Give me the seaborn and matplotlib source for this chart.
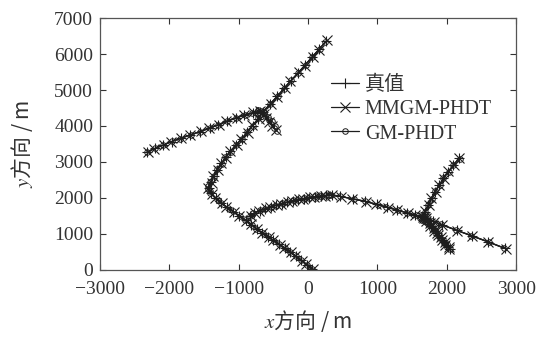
import matplotlib
matplotlib.use("Agg")
import matplotlib.pyplot as plt
import seaborn as sns
import pandas as pd

# track points (x, y in m)
truth_a = [(260, 6350), (159, 6132), (58, 5914), (-43, 5696), (-144, 5478), (-245, 5260), (-346, 5042),
           (-447, 4824), (-548, 4606), (-649, 4390), (-720, 4200), (-800, 4010), (-880, 3820), (-960, 3640),
           (-1040, 3470), (-1120, 3300), (-1190, 3130), (-1250, 2960), (-1310, 2790), (-1360, 2610),
           (-1400, 2440), (-1430, 2280), (-1400, 2130), (-1330, 1990), (-1250, 1860), (-1170, 1740),
           (-1080, 1620), (-990, 1500), (-900, 1380), (-820, 1260), (-740, 1140), (-660, 1030), (-580, 920),
           (-500, 820), (-420, 710), (-340, 610), (-260, 500), (-180, 390), (-100, 270), (-20, 150), (60, 30)]
truth_b = [(-690, 4400), (-800, 4360), (-920, 4300), (-1040, 4225), (-1170, 4130), (-1295, 4035),
           (-1420, 3940), (-1560, 3845), (-1700, 3750), (-1840, 3655), (-1970, 3565), (-2090, 3470),
           (-2210, 3375), (-2330, 3270)]
truth_c = [(-840, 1500), (-780, 1580), (-700, 1650), (-620, 1700), (-540, 1750), (-460, 1800), (-380, 1845),
           (-300, 1885), (-220, 1920), (-140, 1955), (-60, 1985), (20, 2010), (100, 2035), (180, 2055),
           (260, 2070), (340, 2080), (462, 2046), (650, 1973), (822, 1907), (995, 1819), (1139, 1742),
           (1283, 1665), (1428, 1585), (1543, 1521), (1680, 1440), (1800, 1352), (1928, 1258), (2144, 1100),
           (2361, 948), (2601, 779), (2840, 600)]
truth_d = [(2183, 3102), (2096, 2917), (2024, 2731), (1952, 2547), (1894, 2361), (1832, 2175), (1784, 1992),
           (1735, 1806), (1687, 1620), (1660, 1480), (1690, 1420), (1715, 1355), (1745, 1290), (1770, 1225),
           (1800, 1160), (1825, 1095), (1855, 1030), (1880, 965), (1910, 900), (1935, 835), (1965, 770),
           (1990, 705), (2020, 640), (2045, 575)]

mmgm_a = [(270, 6380), (150, 6120), (65, 5930), (-50, 5680), (-135, 5490), (-255, 5250), (-340, 5060),
          (-455, 4810), (-540, 4620), (-660, 4380), (-710, 4190), (-810, 4020), (-870, 3810), (-970, 3650),
          (-1030, 3460), (-1130, 3310), (-1180, 3120), (-1260, 2970), (-1300, 2780), (-1370, 2620),
          (-1390, 2430), (-1440, 2290), (-1390, 2120), (-1340, 2000), (-1240, 1850), (-1180, 1750),
          (-1070, 1610), (-1000, 1510), (-890, 1370), (-830, 1270), (-730, 1130), (-670, 1040), (-570, 910),
          (-510, 830), (-410, 700), (-350, 620), (-250, 490), (-190, 400), (-90, 260), (-30, 160), (70, 20)]
mmgm_b = [(-470, 3900), (-520, 4010), (-560, 4120), (-600, 4230), (-640, 4330), (-700, 4410), (-790, 4375),
          (-930, 4310), (-1030, 4220), (-1180, 4125), (-1285, 4040), (-1430, 3935), (-1550, 3850),
          (-1710, 3745), (-1835, 3660), (-1980, 3560), (-2080, 3475), (-2220, 3370), (-2310, 3290)]
mmgm_c = [(-830, 1490), (-770, 1590), (-710, 1640), (-610, 1710), (-550, 1740), (-450, 1810), (-390, 1835),
          (-290, 1895), (-230, 1910), (-130, 1965), (-70, 1975), (30, 2020), (90, 2025), (190, 2065),
          (250, 2060), (350, 2090), (470, 2040), (640, 1980), (830, 1900), (985, 1825), (1150, 1735),
          (1275, 1670), (1435, 1580), (1535, 1525), (1670, 1445), (1810, 1345), (1935, 1250), (2150, 1095),
          (2370, 940), (2595, 785), (2850, 590)]
mmgm_d = [(2170, 3120), (2105, 2905), (2015, 2745), (1960, 2535), (1885, 2370), (1840, 2165), (1775, 2000),
          (1745, 1795), (1680, 1630), (1650, 1470), (1695, 1430), (1705, 1350), (1755, 1295), (1760, 1220),
          (1810, 1165), (1815, 1090), (1865, 1035), (1870, 960), (1920, 905), (1925, 830), (1975, 775),
          (1980, 700), (2030, 645), (2035, 570)]

gm_a = [(250, 6340), (165, 6140), (50, 5905), (-35, 5705), (-150, 5470), (-240, 5270), (-350, 5035),
        (-440, 4830), (-555, 4600), (-640, 4400), (-725, 4210), (-795, 4000), (-885, 3830), (-955, 3630),
        (-1045, 3480), (-1115, 3290), (-1195, 3140), (-1245, 2950), (-1315, 2800), (-1355, 2600),
        (-1410, 2450), (-1440, 2320), (-1450, 2250), (-1420, 2200), (-1410, 2140), (-1320, 1980),
        (-1255, 1870), (-1160, 1730), (-1085, 1630), (-985, 1490), (-905, 1390), (-815, 1250), (-745, 1150),
        (-655, 1020), (-585, 930), (-495, 810), (-425, 720), (-335, 600), (-265, 510), (-175, 380),
        (-105, 280), (-15, 140), (55, 40)]
gm_b = [(-450, 3860), (-490, 3950), (-480, 4000), (-530, 4060), (-520, 4130), (-570, 4170), (-580, 4250),
        (-620, 4290), (-640, 4360), (-680, 4420), (-720, 4440), (-805, 4365), (-915, 4295), (-1045, 4230),
        (-1165, 4135), (-1300, 4030), (-1415, 3945), (-1565, 3840), (-1695, 3755), (-1845, 3650),
        (-1965, 3570), (-2095, 3465), (-2205, 3380), (-2325, 3275)]
gm_c = [(-845, 1510), (-790, 1570), (-695, 1660), (-625, 1690), (-535, 1760), (-465, 1790), (-375, 1855),
        (-305, 1875), (-215, 1930), (-145, 1945), (-55, 1995), (15, 2000), (105, 2045), (175, 2045),
        (265, 2080), (300, 2090), (335, 2070), (455, 2050), (660, 1965), (815, 1915), (1005, 1810),
        (1130, 1750), (1290, 1660), (1420, 1590), (1550, 1515), (1650, 1470), (1690, 1430), (1790, 1360),
        (1920, 1265), (2140, 1105), (2355, 955), (2605, 770), (2830, 605)]
gm_d = [(2190, 3090), (2090, 2925), (2030, 2720), (1945, 2555), (1900, 2350), (1825, 2185), (1790, 1985),
        (1730, 1815), (1690, 1610), (1640, 1500), (1620, 1440), (1670, 1400), (1640, 1380), (1700, 1340),
        (1730, 1280), (1780, 1230), (1790, 1150), (1835, 1100), (1845, 1020), (1890, 970), (1900, 890),
        (1945, 840), (1955, 760), (2000, 710), (2010, 630), (2050, 590)]

series_names = ["真值", "MMGM-PHDT", "GM-PHDT"]
x_ticks = [-3000, -2000, -1000, 0, 1000, 2000, 3000]
y_ticks = [0, 1000, 2000, 3000, 4000, 5000, 6000, 7000]

sns.set_style("ticks")
plt.rcParams["font.family"] = ["Liberation Serif", "Noto Sans CJK SC"]
plt.rcParams["mathtext.fontset"] = "stix"
plt.rcParams["axes.unicode_minus"] = True

fig = plt.figure(figsize=(5.41, 3.40), dpi=100)
ax = fig.add_axes([0.185, 0.206, 0.769, 0.741])

ink = "#1e1e1e"
styles = [
    dict(marker="+", markersize=7, markeredgewidth=0.8),
    dict(marker="x", markersize=6.5, markeredgewidth=0.8),
    dict(marker="o", markersize=4, markeredgewidth=0.7, markerfacecolor="none"),
]
groups = [
    [truth_a, truth_b, truth_c, truth_d],
    [mmgm_a, mmgm_b, mmgm_c, mmgm_d],
    [gm_a, gm_b, gm_c, gm_d],
]

for name, style, tracks in zip(series_names, styles, groups):
    for i, pts in enumerate(tracks):
        df = pd.DataFrame(pts, columns=["x", "y"])
        sns.lineplot(data=df, x="x", y="y", sort=False, estimator=None, ax=ax,
                     color=ink, linewidth=0.9, markeredgecolor=ink,
                     label=name if i == 0 else None, legend=False, **style)

ax.set_xlim(-3000, 3000)
ax.set_ylim(0, 7000)
ax.set_xticks(x_ticks)
ax.set_yticks(y_ticks)
ax.tick_params(direction="in", top=True, right=True, length=4, width=0.8,
               labelsize=14, colors="#333333")
ax.tick_params(axis="x", pad=8)
ax.tick_params(axis="y", pad=5)
for s in ax.spines.values():
    s.set_color("#555555")
    s.set_linewidth(0.9)

ax.set_xlabel(r"$x$方向 / m", family="Noto Sans CJK SC", fontsize=15, color="#333333", labelpad=7)
ax.set_ylabel(r"$y$方向 / m", family="Noto Sans CJK SC", fontsize=15, color="#333333", labelpad=14)

handles, labels = ax.get_legend_handles_labels()
ax.legend(handles, labels, loc="upper left", bbox_to_anchor=(0.53, 0.81), frameon=False,
          fontsize=14.5, handlelength=1.4, handletextpad=0.3, labelspacing=0.25, borderpad=0,
          labelcolor="#333333")

fig.savefig("out.png", dpi=100)
